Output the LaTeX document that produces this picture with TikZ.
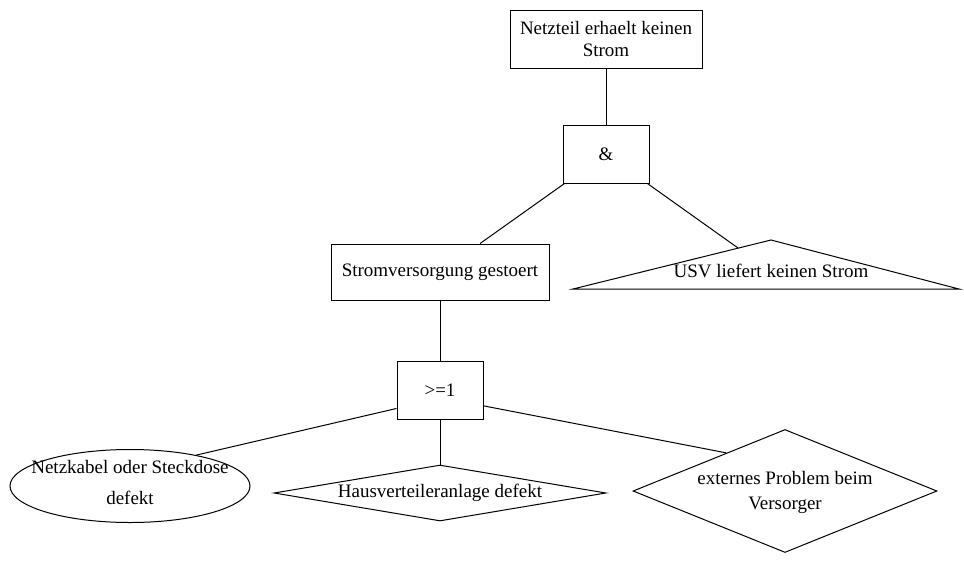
\documentclass[tikz,border=0pt]{standalone}
\usepackage{fontspec}
\setmainfont{Liberation Serif}
\usetikzlibrary{shapes.geometric}
\begin{document}
\begin{tikzpicture}[x=1pt,y=-1pt,
  txt/.style={font=\fontsize{19}{22}\selectfont, align=center},
  edge/.style={line width=1pt},
  box/.style={draw, line width=1pt, txt, inner sep=0pt},
  gate/.style={box, minimum width=86pt, minimum height=58pt},
  event/.style={draw, line width=1pt, inner sep=0pt},
  inscribed/.style={label={[txt]center:{#1}}}]
\useasboundingbox (0,0) rectangle (964,563);

% top event and AND gate
\node[box, minimum width=192pt, minimum height=58pt] (top) at (606,39)
  {Netzteil erhaelt keinen\\Strom};
\node[gate] (and) at (606,154) {\&};

% intermediate event and OR gate
\node[box, minimum width=218pt, minimum height=56pt] (strom) at (440,272)
  {Stromversorgung gestoert};
\node[gate] (or) at (440,390) {>=1};

% undeveloped event: UPS delivers no power
\draw[edge] (573,289) -- (771,240) -- (959,289) -- cycle;
\node[txt, anchor=base] (usv) at (771,277) {USV liefert keinen Strom};
\coordinate (usvedge) at (738,248);

% basic events
\node[event, ellipse, minimum width=240pt, minimum height=73pt,
  label={[txt, yshift=4pt]center:{Netzkabel oder Steckdose\\[9pt]defekt}}]
  (kabel) at (130,486) {};
\node[event, diamond, minimum width=332pt, minimum height=56pt,
  inscribed={Hausverteileranlage defekt}] (haus) at (440,493) {};
\node[event, diamond, minimum width=304pt, minimum height=123pt,
  label={[txt, yshift=-1pt]center:{externes Problem beim\\[3pt]Versorger}}]
  (extern) at (785,491) {};

% connectors
\draw[edge] (top) -- (and);
\draw[edge] (and) -- (strom);
\draw[edge] (and) -- (usvedge);
\draw[edge] (strom) -- (or);
\draw[edge] (or.203) -- (kabel.25);
\draw[edge] (or) -- (haus);
\draw[edge] (or.-20) -- (extern.147);
\end{tikzpicture}
\end{document}
